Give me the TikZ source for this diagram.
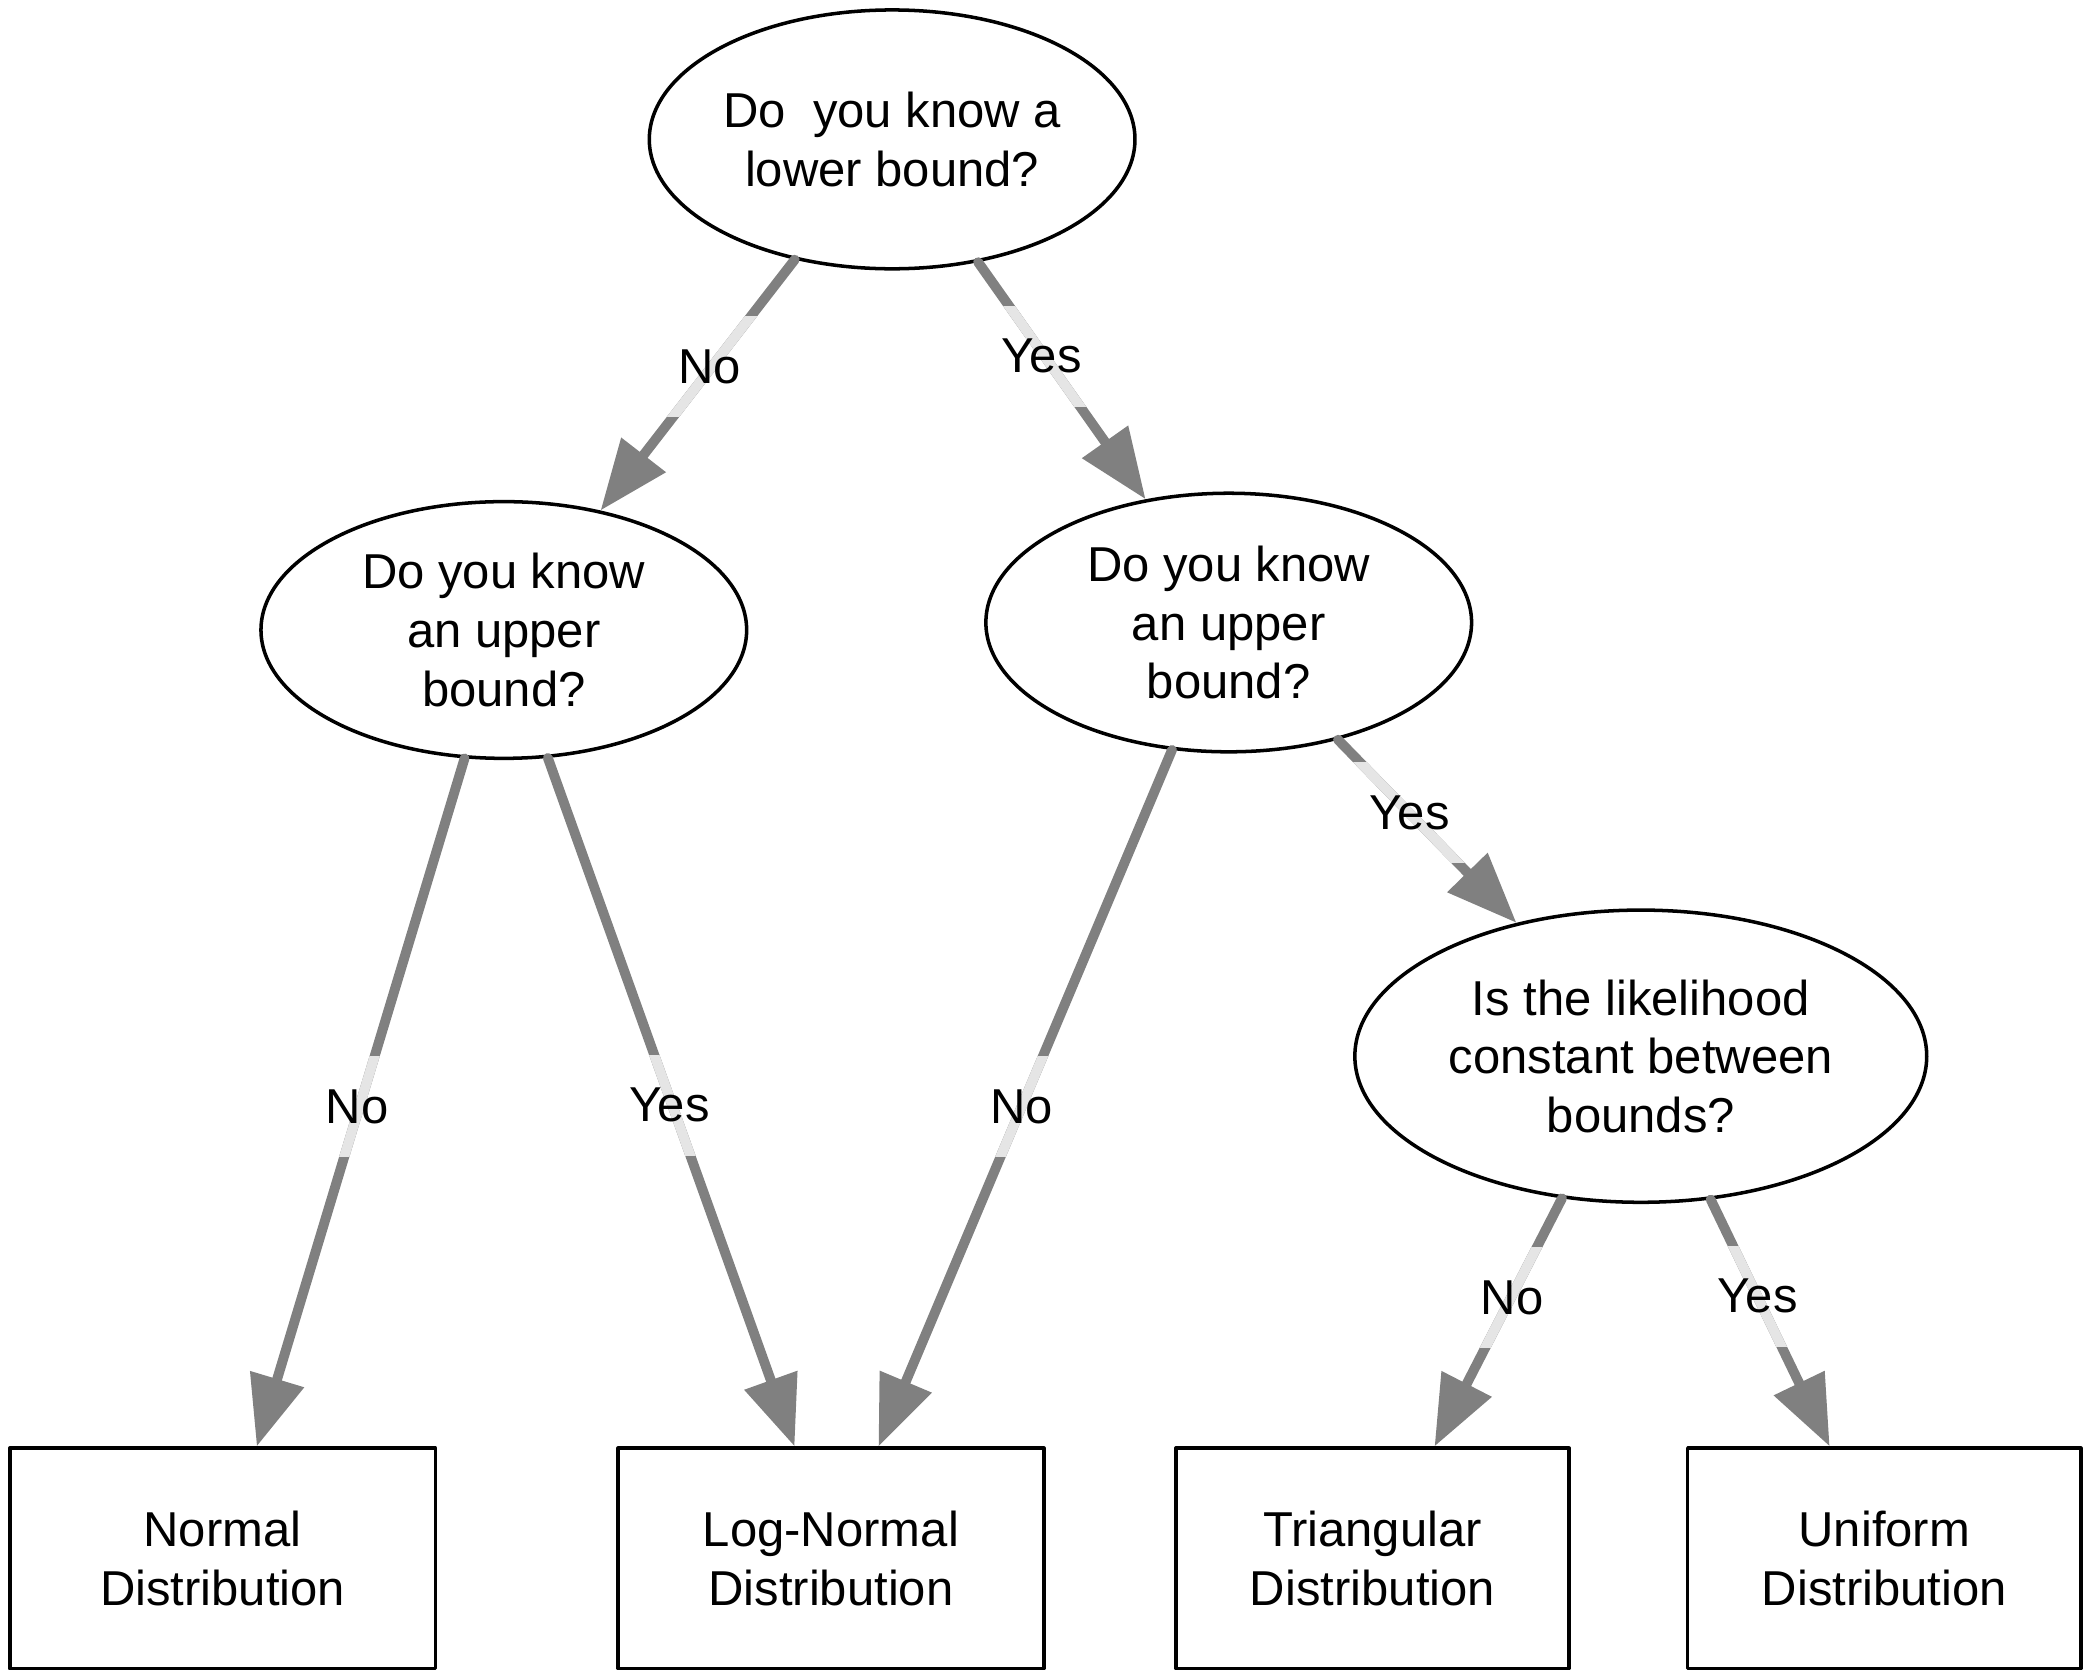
\documentclass[tikz,border=0pt]{standalone}
\usepackage{fontspec}
\setmainfont{Liberation Sans}
\usetikzlibrary{shapes.geometric,arrows.meta}
\definecolor{edgegray}{RGB}{128,128,128}
\definecolor{bandgray}{RGB}{229,229,229}
\tikzset{
  qnode/.style={ellipse, draw=black, line width=0.75pt, align=center, inner sep=0pt},
  resnode/.style={rectangle, draw=black, line width=0.75pt, line join=round, align=center, inner sep=0pt,
                  minimum height=1.652cm},
  edgeline/.style={draw=edgegray, line width=2.1pt, line cap=round,
                   -{Triangle[length=15pt,width=11.5pt]}},
  bandline/.style={draw=bandgray, line width=2.1pt},
  elabel/.style={inner sep=0pt}
}
\begin{document}
\begin{tikzpicture}[x=0.01cm,y=0.01cm,font=\fontsize{10.45pt}{12.5pt}\selectfont]
\useasboundingbox (0,0) rectangle (1565,-1259);

% question nodes
\node[qnode, minimum width=3.64cm, minimum height=1.94cm] (top) at (669,-104.5) {Do~ you know a\\lower bound?};
\node[qnode, minimum width=3.64cm, minimum height=1.924cm] (lm) at (377.8,-472.4) {Do you know\\an upper\\bound?};
\node[qnode, minimum width=3.64cm, minimum height=1.938cm] (rm) at (921.4,-466.8) {Do you know\\an upper\\bound?};
\node[qnode, minimum width=4.286cm, minimum height=2.19cm] (lk) at (1230.4,-792) {Is the likelihood\\constant between\\bounds?};

% result nodes
\node[resnode, minimum width=3.19cm] (nd) at (166.9,-1168.6) {Normal\\Distribution};
\node[resnode, minimum width=3.19cm] (lnd) at (623.1,-1168.6) {Log-Normal\\Distribution};
\node[resnode, minimum width=2.947cm] (td) at (1029.2,-1168.6) {Triangular\\Distribution};
\node[resnode, minimum width=2.947cm] (ud) at (1413,-1168.6) {Uniform\\Distribution};

% label positions
\coordinate (p1) at (532,-275);
\coordinate (p2) at (781,-267);
\coordinate (p3) at (267.7,-829.8);
\coordinate (p4) at (502.2,-828.8);
\coordinate (p5) at (766,-830);
\coordinate (p6) at (1057,-609.3);
\coordinate (p7) at (1134,-973);
\coordinate (p8) at (1318,-972);

% edges
\draw[edgeline] (top.231.5) -- (lm.51.5);
\draw[edgeline] (top.305.3) -- (rm.124.7);
\draw[edgeline] (lm.253) -- (nd.73.3);
\draw[edgeline] (lm.289.4) -- (lnd.108.2);
\draw[edgeline] (rm.246.6) -- (lnd.67.1);
\draw[edgeline] (rm.313.8) -- (lk.133.5);
\draw[edgeline] (lk.241.4) -- (td.61.9);
\draw[edgeline] (lk.296.8) -- (ud.116.4);

% light bands behind labels
\begin{scope}\clip (p1) ++(-100,-37.5) rectangle ++(200,75); \draw[bandline] (top.231.5) -- (lm.51.5); \end{scope}
\begin{scope}\clip (p2) ++(-100,-37.5) rectangle ++(200,75); \draw[bandline] (top.305.3) -- (rm.124.7); \end{scope}
\begin{scope}\clip (p3) ++(-100,-37.5) rectangle ++(200,75); \draw[bandline] (lm.253) -- (nd.73.3); \end{scope}
\begin{scope}\clip (p4) ++(-100,-37.5) rectangle ++(200,75); \draw[bandline] (lm.289.4) -- (lnd.108.2); \end{scope}
\begin{scope}\clip (p5) ++(-100,-37.5) rectangle ++(200,75); \draw[bandline] (rm.246.6) -- (lnd.67.1); \end{scope}
\begin{scope}\clip (p6) ++(-100,-37.5) rectangle ++(200,75); \draw[bandline] (rm.313.8) -- (lk.133.5); \end{scope}
\begin{scope}\clip (p7) ++(-100,-37.5) rectangle ++(200,75); \draw[bandline] (lk.241.4) -- (td.61.9); \end{scope}
\begin{scope}\clip (p8) ++(-100,-37.5) rectangle ++(200,75); \draw[bandline] (lk.296.8) -- (ud.116.4); \end{scope}

% labels
\node[elabel] (l1) at (p1) {No};
\node[elabel] (l2) at (p2) {Yes};
\node[elabel] (l3) at (p3) {No};
\node[elabel] (l4) at (p4) {Yes};
\node[elabel] (l5) at (p5) {No};
\node[elabel] (l6) at (p6) {Yes};
\node[elabel] (l7) at (p7) {No};
\node[elabel] (l8) at (p8) {Yes};
\end{tikzpicture}
\end{document}
